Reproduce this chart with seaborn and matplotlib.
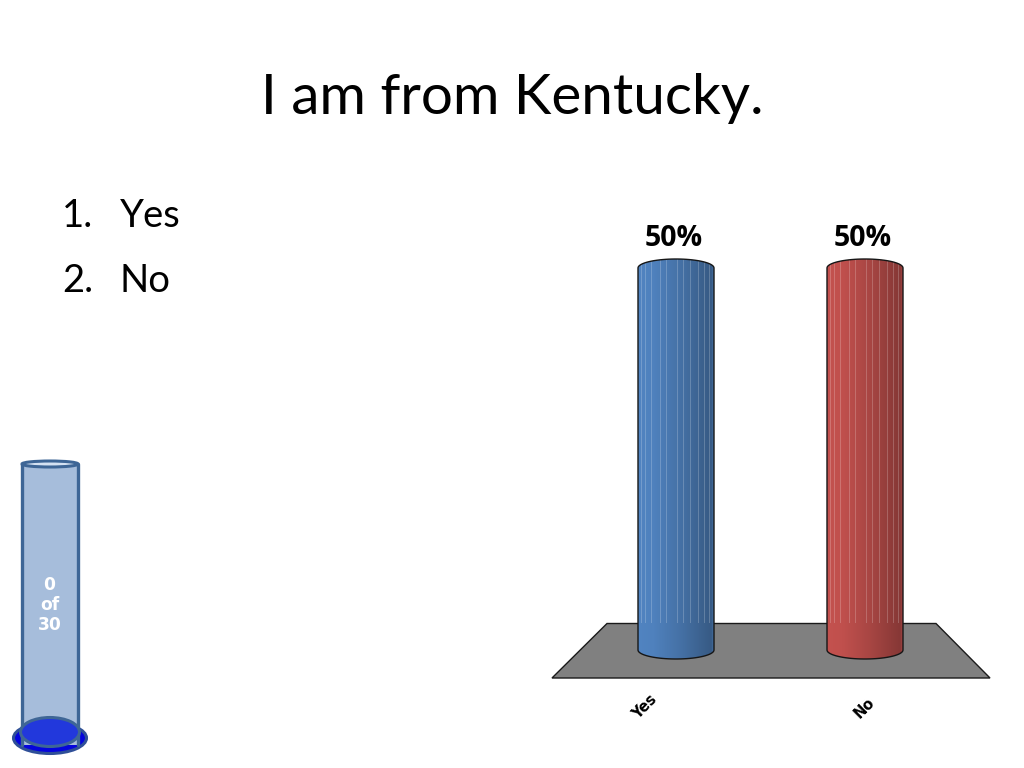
import numpy as np
import pandas as pd
import matplotlib
matplotlib.use("Agg")
import matplotlib.pyplot as plt
from matplotlib.patches import Ellipse, Polygon, Rectangle
from matplotlib.colors import to_rgb
import seaborn as sns

# ---- data ----
categories = ["Yes", "No"]
percent = [50, 50]
answers = ["1.", "2."]
answer_text = ["Yes", "No"]
responses = 0
participants = 30
title = "I am from Kentucky."

# ---- styles ----
bar_colors = ["#4F81BD", "#C0504D"]
sns.set_theme(style="white")
plt.rcParams["font.family"] = ["Lato", "DejaVu Sans"]

W, H = 1024, 768
fig = plt.figure(figsize=(W / 100, H / 100), dpi=100, facecolor="white")

def px_axes(x0, y_top, x1, y_bot):
    return fig.add_axes([x0 / W, 1 - y_bot / H, (x1 - x0) / W, (y_bot - y_top) / H])

# overlay in pixel coordinates for slide decoration
bg = fig.add_axes([0, 0, 1, 1], zorder=0)
bg.set_xlim(0, W); bg.set_ylim(H, 0); bg.axis("off")

# ---- chart axes: 189 px per category, 7.64 px per percent ----
X0, X1, YT, YB = 552, 990, 220, 678
ax = px_axes(X0, YT, X1, YB)
ax.set_zorder(1)
ax.patch.set_alpha(0)
df = pd.DataFrame({"answer": categories, "percent": percent})
sns.barplot(data=df, x="answer", y="percent", hue="answer", palette=bar_colors,
            width=76 / 189, legend=False, ax=ax, saturation=1, zorder=3)
ax.axis("off")

# ---- floor in pixel coords ----
bg.add_patch(Polygon([(607, 623.5), (936, 623.5), (990, 678), (552, 678)], closed=True,
                     facecolor="#808080", edgecolor="#1a1a1a", lw=1.0))

# ---- 3D cylinder look, derived from each seaborn bar ----
stripes = [0.04, 0.10, 0.18, 0.30, 0.38, 0.52, 0.60, 0.70, 0.80, 0.88, 0.95]
py = 7.64
cap_h = 9.0 / py
n = 76
for bar, col in zip(ax.patches, bar_colors):
    x, w, h = bar.get_x(), bar.get_width(), bar.get_height()
    base = np.array(to_rgb(col))
    t = np.linspace(0, 1, n)
    shade = np.interp(t, [0, 0.2, 0.55, 0.97, 1.0], [1.02, 1.0, 0.88, 0.70, 0.85])
    row = np.clip(base[None, :] * shade[:, None], 0, 1)
    floor_val = (650 - 623.5) / py      # height of the floor's back edge
    rows = 400
    img = np.repeat(row[None, :, :], rows, axis=0)
    ys = np.linspace(h + cap_h, -cap_h, rows)
    above = ys > floor_val
    for s in stripes:
        i = int(s * (n - 1))
        img[:, i][above] = np.clip(img[:, i][above] * 0.8 + 0.2, 0, 1)
    body = Polygon(np.vstack([
        [(x + w * (0.5 + 0.5 * np.cos(a)), -cap_h * np.sin(a)) for a in np.linspace(0, np.pi, 40)],
        [(x + w * (0.5 + 0.5 * np.cos(a)), h + cap_h * np.sin(a)) for a in np.linspace(np.pi, 0, 40)],
    ]), closed=True, facecolor="none", edgecolor="#161616", lw=1.0, zorder=6)
    ax.add_patch(body)
    im = ax.imshow(img, extent=[x, x + w, -cap_h, h + cap_h], aspect="auto", zorder=5,
                   interpolation="bilinear")
    im.set_clip_path(body)
    bar.set_visible(False)
    ax.text(x + w / 2 - 0.01, h + cap_h + 0.77, f"{h:.0f}%", ha="center", va="bottom",
            fontsize=20.5, fontweight="bold", color="black", zorder=7,
            family=["Open Sans", "DejaVu Sans"])
ax.set_xlim((X0 - 676) / 189, (X1 - 676) / 189)
ax.set_ylim((650 - YB) / 7.64, (650 - YT) / 7.64)

# ---- rotated category labels ----
for lab, xpx, ypx in zip(categories, (645, 864.5), (707, 708)):
    bg.text(xpx, ypx, lab, rotation=45, ha="center", va="center", fontsize=10.5,
            fontweight="bold", color="black", family=["DejaVu Sans"])

# ---- slide text ----
bg.text(512, 99, title, ha="center", va="center", fontsize=40.8, color="black")
for num, txt, y in zip(answers, answer_text, (216, 281)):
    bg.text(62, y, num, ha="left", va="center", fontsize=27.5, color="black")
    bg.text(119.5, y, txt, ha="left", va="center", fontsize=27.5, color="black")

# ---- response counter cylinder ----
edge = "#3E6696"
bg.add_patch(Ellipse((50, 738), 73, 31, facecolor="#0505DC", edgecolor="#2F4F98", lw=2.2, zorder=2))
bg.add_patch(Rectangle((22, 464), 56, 281, facecolor="#A6BDDB", edgecolor="none", zorder=3))
bg.plot([22, 22], [464, 745], color=edge, lw=2.4, zorder=4)
bg.plot([78, 78], [464, 745], color=edge, lw=2.4, zorder=4)
bg.add_patch(Ellipse((50, 732), 59, 29, facecolor="#2238DC", edgecolor="#3E6696", lw=2.2, zorder=5))
bg.add_patch(Ellipse((50, 464), 56, 6, facecolor="#D5E2F2", edgecolor=edge, lw=2.2, zorder=6))
bg.text(49.5, 605, f"{responses}\nof\n{participants}", ha="center", va="center", color="white",
        fontsize=12.3, fontweight="bold", linespacing=1.16, family=["DejaVu Sans"], zorder=7)

fig.savefig("out.png", dpi=100, facecolor="white")
